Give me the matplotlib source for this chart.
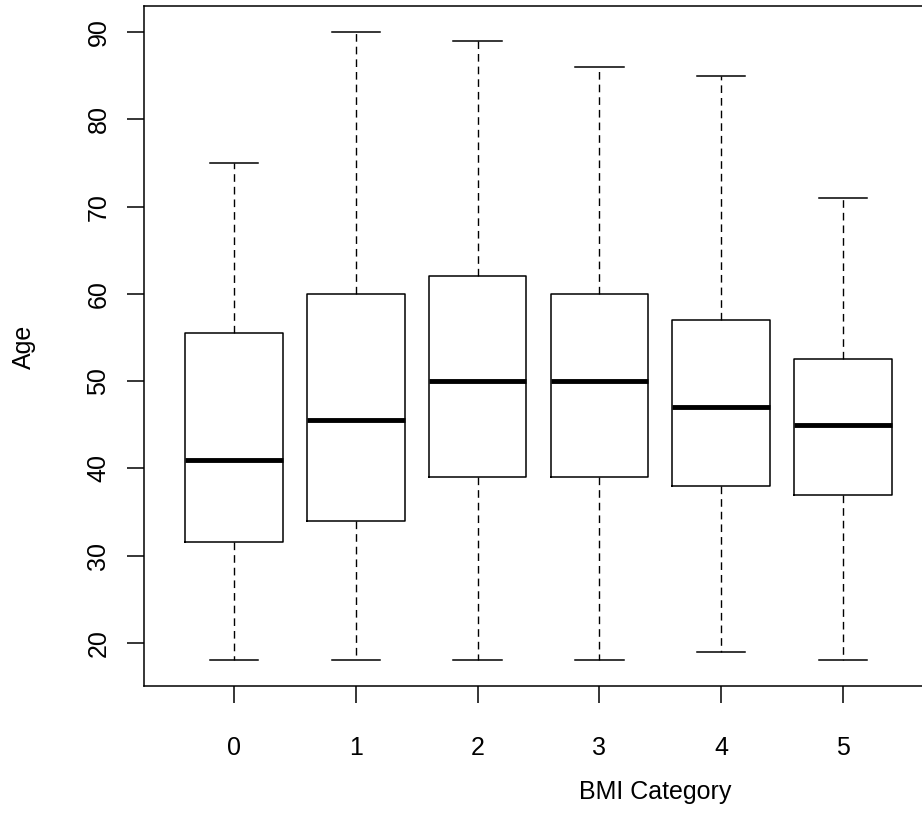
import matplotlib
matplotlib.use("Agg")
import matplotlib.pyplot as plt

plt.rcParams['font.family'] = ['Liberation Sans', 'DejaVu Sans']

categories = ["0", "1", "2", "3", "4", "5"]
whis_lo = [18, 18, 18, 18, 19, 18]
q1 = [31.5, 34, 39, 39, 38, 37]
medians = [41, 45.5, 50, 50, 47, 45]
q3 = [55.5, 60, 62, 60, 57, 52.5]
whis_hi = [75, 90, 89, 86, 85, 71]
y_ticks = [20, 30, 40, 50, 60, 70, 80, 90]

W, H = 922, 835
fig = plt.figure(figsize=(W / 100, H / 100), dpi=100)
left, right, top, bottom = 144, 933, 6, 686
ax = fig.add_axes([left / W, 1 - bottom / H, (right - left) / W, (bottom - top) / H])

stats = []
for i, c in enumerate(categories):
    stats.append(dict(label=c, whislo=whis_lo[i], q1=q1[i], med=medians[i],
                      q3=q3[i], whishi=whis_hi[i], fliers=[]))

positions = list(range(1, len(categories) + 1))
ax.bxp(stats, positions=positions, widths=0.8, capwidths=0.4,
       showfliers=False,
       boxprops=dict(color='black', linewidth=1.1),
       medianprops=dict(color='black', linewidth=3.5, solid_capstyle='butt'),
       whiskerprops=dict(color='black', linewidth=1.0, linestyle=(0, (5.5, 3.6))),
       capprops=dict(color='black', linewidth=1.1))

ax.set_xlim(0.26, 6.74)
ax.set_ylim(15.05, 93.0)
ax.set_xticks(positions)
ax.set_xticklabels(categories)
ax.set_yticks(y_ticks)
ax.set_yticklabels([str(t) for t in y_ticks], rotation=90, va='center')

for s in ax.spines.values():
    s.set_linewidth(1.1)
    s.set_color('black')

ax.tick_params(axis='both', length=12.2, width=1.1, labelsize=18, color='black')
ax.tick_params(axis='x', pad=23.5)
ax.tick_params(axis='y', pad=12)

ax.set_xlabel("BMI Category", fontsize=18)
ax.set_ylabel("Age", fontsize=18)
ax.xaxis.set_label_coords((655 - left) / (right - left), 1 - (792 - top) / (bottom - top))
ax.xaxis.label.set_va('center')
ax.yaxis.set_label_coords((24 - left) / (right - left), 1 - (347 - top) / (bottom - top))
ax.yaxis.label.set_va('center')

fig.savefig("out.png", dpi=100)
